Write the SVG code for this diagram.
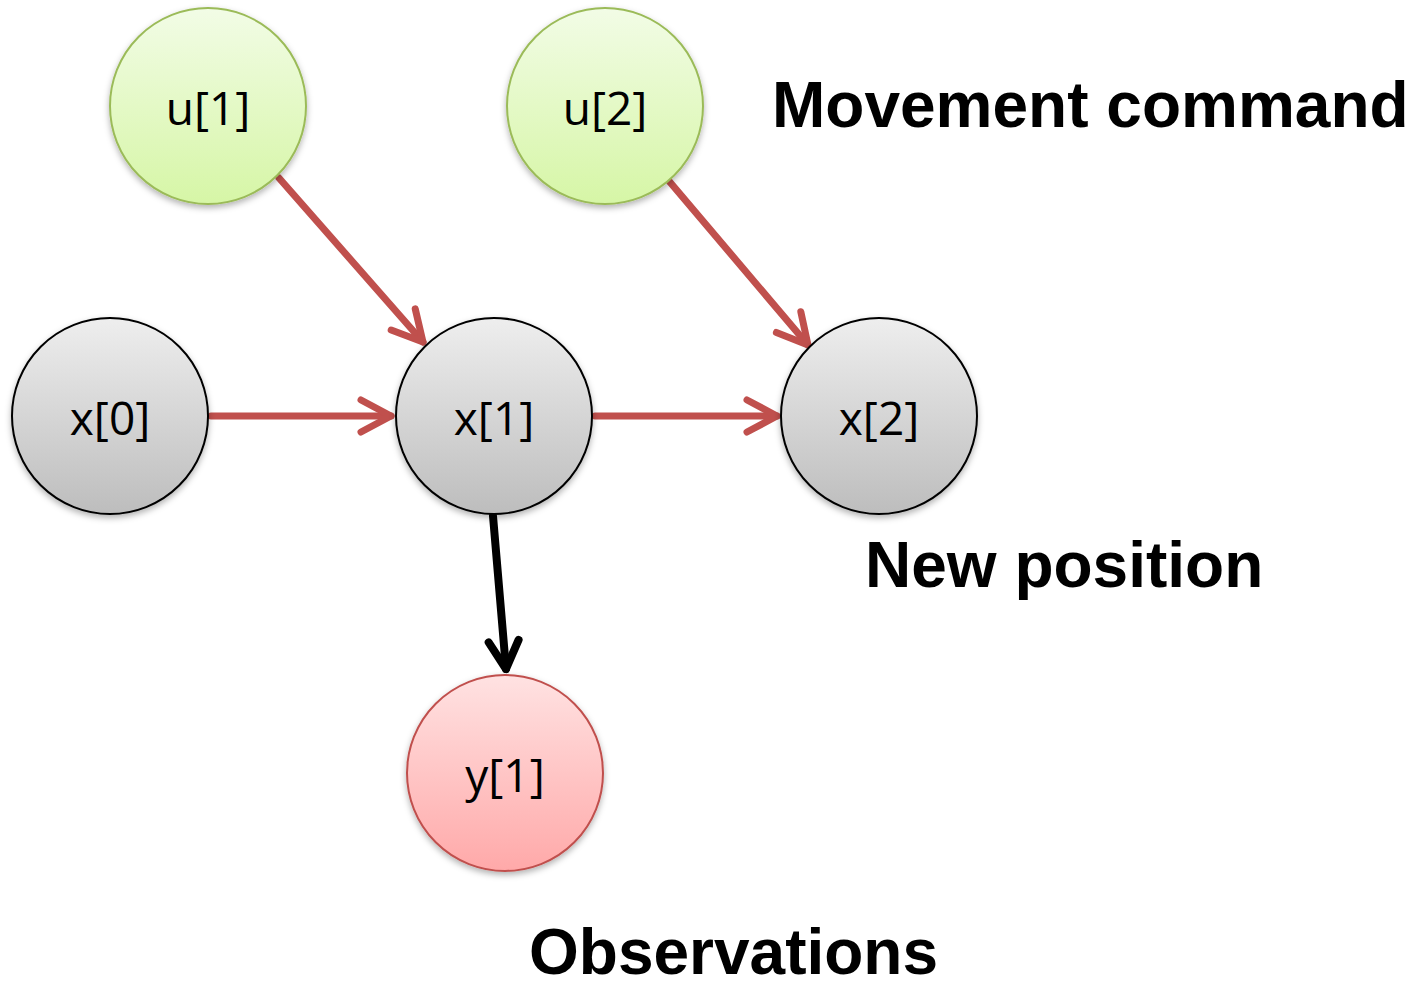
<svg xmlns="http://www.w3.org/2000/svg" width="1410" height="988" viewBox="0 0 1410 988">
  <style>
    .node-text { font-family: "Open Sans", "Noto Sans", sans-serif; font-size: 46px; fill: #000; text-anchor: middle; }
    .label { font-family: "Liberation Sans", Arial, sans-serif; font-weight: bold; font-size: 64px; fill: #000; }
    .red-link { stroke: #C0504D; stroke-width: 7; fill: none; stroke-linecap: round; }
    .black-link { stroke: #000; stroke-width: 8; fill: none; stroke-linecap: round; }
  </style>
  <defs>
    <linearGradient id="gGreen" x1="0" y1="0" x2="0" y2="1">
      <stop offset="0" stop-color="#F2FCE6"/>
      <stop offset="1" stop-color="#D6F6A6"/>
    </linearGradient>
    <linearGradient id="gGrey" x1="0" y1="0" x2="0" y2="1">
      <stop offset="0" stop-color="#EEEEEE"/>
      <stop offset="1" stop-color="#BDBDBD"/>
    </linearGradient>
    <linearGradient id="gPink" x1="0" y1="0" x2="0" y2="1">
      <stop offset="0" stop-color="#FFE2E2"/>
      <stop offset="1" stop-color="#FFA9A9"/>
    </linearGradient>
    <filter id="shadow" x="-20%" y="-20%" width="140%" height="140%">
      <feDropShadow dx="0" dy="3" stdDeviation="3" flood-color="#000" flood-opacity="0.3"/>
    </filter>
    <marker id="redHead" markerUnits="userSpaceOnUse" viewBox="-40 -25 50 50" markerWidth="50" markerHeight="50" refX="0" refY="0" orient="auto">
      <path d="M-30,-16 L0,0 L-30,16" fill="none" stroke="#C0504D" stroke-width="7" stroke-linecap="round" stroke-linejoin="round"/>
    </marker>
    <marker id="blackHead" markerUnits="userSpaceOnUse" viewBox="-40 -25 50 50" markerWidth="50" markerHeight="50" refX="0" refY="0" orient="auto">
      <path d="M-28,-15 L0,0 L-28,15" fill="none" stroke="#000" stroke-width="8" stroke-linecap="round" stroke-linejoin="round"/>
    </marker>
  </defs>

  <rect width="1410" height="988" fill="#FFFFFF"/>

  <!-- connectors -->
  <g id="connectors">
    <line class="red-link" x1="279" y1="178" x2="423" y2="342" marker-end="url(#redHead)"/>
    <line class="red-link" x1="669" y1="181" x2="808" y2="345" marker-end="url(#redHead)"/>
    <line class="red-link" x1="211" y1="416" x2="391" y2="416" marker-end="url(#redHead)"/>
    <line class="red-link" x1="595" y1="416" x2="777" y2="416" marker-end="url(#redHead)"/>
    <line class="black-link" x1="493" y1="516" x2="506" y2="669" marker-end="url(#blackHead)"/>
  </g>

  <!-- nodes -->
  <g id="node-u1">
    <circle cx="208" cy="106" r="98" fill="url(#gGreen)" stroke="#9BBB59" stroke-width="2" filter="url(#shadow)"/>
    <text class="node-text" x="208" y="125">u[1]</text>
  </g>
  <g id="node-u2">
    <circle cx="605" cy="106" r="98" fill="url(#gGreen)" stroke="#9BBB59" stroke-width="2" filter="url(#shadow)"/>
    <text class="node-text" x="605" y="125">u[2]</text>
  </g>
  <g id="node-x0">
    <circle cx="110" cy="416" r="98" fill="url(#gGrey)" stroke="#000" stroke-width="2" filter="url(#shadow)"/>
    <text class="node-text" x="110" y="435">x[0]</text>
  </g>
  <g id="node-x1">
    <circle cx="494" cy="416" r="98" fill="url(#gGrey)" stroke="#000" stroke-width="2" filter="url(#shadow)"/>
    <text class="node-text" x="494" y="435">x[1]</text>
  </g>
  <g id="node-x2">
    <circle cx="879" cy="416" r="98" fill="url(#gGrey)" stroke="#000" stroke-width="2" filter="url(#shadow)"/>
    <text class="node-text" x="879" y="435">x[2]</text>
  </g>
  <g id="node-y1">
    <circle cx="505" cy="773" r="98" fill="url(#gPink)" stroke="#C0504D" stroke-width="2" filter="url(#shadow)"/>
    <text class="node-text" x="505" y="792">y[1]</text>
  </g>

  <!-- captions -->
  <g id="captions">
    <text class="label" x="772" y="127">Movement command</text>
    <text class="label" x="865" y="587">New position</text>
    <text class="label" x="529" y="974">Observations</text>
  </g>
</svg>
